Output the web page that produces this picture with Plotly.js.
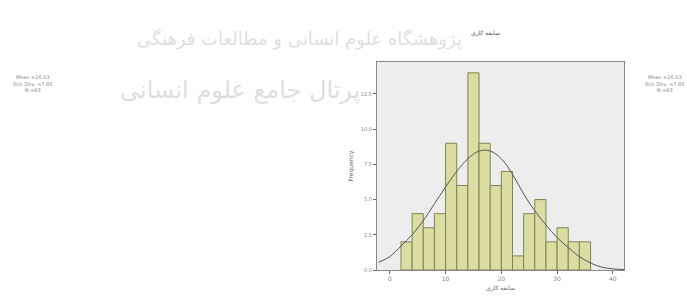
<!DOCTYPE html>
<html>
<head>
<meta charset="utf-8">
<script src="https://cdn.plot.ly/plotly-3.0.1.min.js"></script>
<style>html,body{margin:0;padding:0;background:#fff;}#chart{width:687px;height:299px;}</style>
</head>
<body>
<div id="chart"></div>
<script>
// Histogram bins (centres, width 2 years) and frequencies
const binCenters = [3, 5, 7, 9, 11, 13, 15, 17, 19, 21, 23, 25, 27, 29, 31, 33, 35];
const frequencies = [2, 4, 3, 4, 9, 6, 14, 9, 6, 7, 1, 4, 5, 2, 3, 2, 2];
// Fitted normal curve
const curveX = [-2, 0, 2, 4, 6, 8, 10, 12, 14, 16, 18, 20, 22, 24, 26, 28, 30, 32, 34, 36, 38, 40, 42];
const curveY = [0.55, 0.95, 1.7, 2.5, 3.5, 4.7, 5.9, 7.0, 7.9, 8.45, 8.45, 7.9, 6.8, 5.4, 4.2, 3.2, 2.3, 1.6, 0.95, 0.5, 0.2, 0.08, 0.03];
const yTicks = [0, 2.5, 5, 7.5, 10, 12.5];
const yTickText = ['0.0', '2.5', '5.0', '7.5', '10.0', '12.5'];
const xTicks = [0, 10, 20, 30, 40];
const titleText = 'سابقه کاری';
const statsLeft = ['Mean =16.63', 'Std. Dev. =7.85', 'N =83'];
const statsRight = ['Mean =16.63', 'Std. Dev. =7.85', 'N =83'];
const watermark1 = 'پژوهشگاه علوم انسانی و مطالعات فرهنگی';
const watermark2 = 'پرتال جامع علوم انسانی';

const traces = [
  {type: 'bar', x: binCenters, y: frequencies, width: 2,
   marker: {color: '#dbdda3', line: {color: '#7f8450', width: 1}},
   hoverinfo: 'none', showlegend: false},
  {type: 'scatter', mode: 'lines', x: curveX, y: curveY,
   line: {color: '#555555', width: 1, shape: 'spline'},
   hoverinfo: 'none', showlegend: false}
];

const layout = {
  width: 687, height: 299,
  margin: {l: 377, r: 63, t: 62, b: 29},
  paper_bgcolor: '#ffffff',
  plot_bgcolor: '#ededed',
  font: {family: 'DejaVu Sans, sans-serif', size: 5, color: '#777'},
  bargap: 0,
  xaxis: {range: [-2.3, 42], tickvals: xTicks, ticktext: xTicks.map(String),
    ticks: 'outside', ticklen: 3, tickcolor: '#666', showgrid: false, zeroline: false,
    showline: true, linecolor: '#888', linewidth: 1, mirror: true,
    tickfont: {size: 6, color: '#888'},
    title: {text: titleText, font: {size: 6, color: '#666'}, standoff: 4}},
  yaxis: {range: [0, 14.77], tickvals: yTicks, ticktext: yTickText,
    ticks: 'outside', ticklen: 3, tickcolor: '#666', showgrid: false, zeroline: false,
    showline: true, linecolor: '#888', linewidth: 1, mirror: true,
    tickfont: {size: 5, color: '#888'},
    title: {text: 'Frequency', font: {size: 6, color: '#666'}, standoff: 6}},
  annotations: [
    {xref: 'paper', yref: 'paper', x: -0.312, y: 1.11, xanchor: 'center', yanchor: 'middle',
     text: watermark1, showarrow: false,
     font: {size: 18, color: 'rgba(190,190,190,0.5)', family: 'DejaVu Sans'}},
    {xref: 'paper', yref: 'paper', x: -0.555, y: 0.865, xanchor: 'center', yanchor: 'middle',
     text: watermark2, showarrow: false,
     font: {size: 24, color: 'rgba(190,190,190,0.5)', family: 'DejaVu Sans'}},
    {xref: 'paper', yref: 'paper', x: 0.44, y: 1.17, text: titleText, showarrow: false,
     font: {size: 6, color: '#555'}},
    {xref: 'paper', yref: 'paper', x: -1.393, y: 0.95, xanchor: 'center', yanchor: 'top',
     text: statsLeft.join('<br>'), showarrow: false, align: 'center',
     font: {size: 5, color: '#888'}},
    {xref: 'paper', yref: 'paper', x: 1.166, y: 0.95, xanchor: 'center', yanchor: 'top',
     text: statsRight.join('<br>'), showarrow: false, align: 'center',
     font: {size: 5, color: '#888'}}
  ]
};

Plotly.newPlot('chart', traces, layout, {displayModeBar: false, staticPlot: true});
</script>
</body>
</html>
